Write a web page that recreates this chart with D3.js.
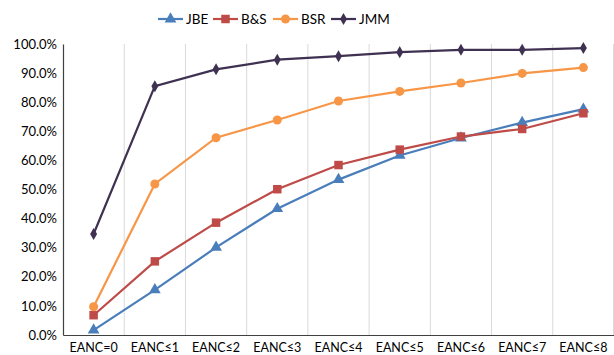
<!DOCTYPE html>
<html>
<head>
<meta charset="utf-8">
<script src="https://cdn.jsdelivr.net/npm/d3@7"></script>
<style>
  html, body { margin: 0; padding: 0; background: #fff; }
  svg { display: block; font-family: Lato, "Open Sans", sans-serif; }
</style>
</head>
<body>
<svg id="chart" width="614" height="355"></svg>
<script>
const categories = ["EANC=0", "EANC≤1", "EANC≤2", "EANC≤3", "EANC≤4", "EANC≤5", "EANC≤6", "EANC≤7", "EANC≤8"];
const seriesNames = ["JBE", "B&S", "BSR", "JMM"];
const JBE = [0.017, 0.155, 0.301, 0.434, 0.534, 0.617, 0.677, 0.730, 0.776];
const BS  = [0.068, 0.253, 0.386, 0.501, 0.584, 0.637, 0.682, 0.708, 0.762];
const BSR = [0.097, 0.519, 0.678, 0.739, 0.804, 0.837, 0.866, 0.899, 0.919];
const JMM = [0.347, 0.855, 0.913, 0.946, 0.958, 0.972, 0.980, 0.980, 0.986];
const yTicks = [0, 0.1, 0.2, 0.3, 0.4, 0.5, 0.6, 0.7, 0.8, 0.9, 1.0];

const colors = ["#4A7EBB", "#BE4B48", "#F79646", "#3F3151"];
const symbols = [d3.symbolTriangle, d3.symbolSquare, d3.symbolCircle, d3.symbolDiamond];
const symSizes = [60, 72, 64, 42];
const seriesData = [JBE, BS, BSR, JMM];

const svg = d3.select("#chart");
const mLeft = 63, mRight = 614, mTop = 44, mBottom = 335;

const x = d3.scaleBand().domain(categories).range([mLeft, mRight]).padding(0);
const y = d3.scaleLinear().domain([0, 1]).range([mBottom, mTop]);

// vertical gridlines at category boundaries
const bounds = categories.map(c => x(c)).slice(1).concat([mRight - 0.5]);
svg.append("g").selectAll("line").data(bounds).join("line")
  .attr("x1", d => d).attr("x2", d => d)
  .attr("y1", mTop).attr("y2", mBottom)
  .attr("stroke", "#d9d9d9").attr("stroke-width", 1);

// y axis
const yAxis = svg.append("g").attr("transform", `translate(${mLeft},0)`)
  .call(d3.axisLeft(y).tickValues(yTicks).tickFormat(d3.format(".1%")).tickSize(0).tickPadding(6));
yAxis.select(".domain").attr("stroke", "#404040").attr("stroke-width", 1.2);
yAxis.selectAll("text").attr("font-size", 13).attr("fill", "#000").attr("font-family", "Lato, sans-serif");

// x axis
const xAxis = svg.append("g").attr("transform", `translate(0,${mBottom})`)
  .call(d3.axisBottom(x).tickSize(0).tickPadding(8));
xAxis.select(".domain").attr("stroke", "#404040").attr("stroke-width", 1.2);
xAxis.selectAll("text").attr("font-size", 12.5).attr("fill", "#000").attr("font-family", "Lato, sans-serif");

// lines & markers
const line = d3.line().x((d, i) => x(categories[i]) + x.bandwidth() / 2).y(d => y(d));
seriesData.forEach((vals, s) => {
  svg.append("path").datum(vals)
    .attr("d", line).attr("fill", "none")
    .attr("stroke", colors[s]).attr("stroke-width", 2.2);
  svg.append("g").selectAll("path").data(vals).join("path")
    .attr("d", d3.symbol().type(symbols[s]).size(symSizes[s]))
    .attr("transform", (d, i) => `translate(${x(categories[i]) + x.bandwidth() / 2},${y(d)})`)
    .attr("fill", colors[s]);
});

// legend
const legendX = [158, 213, 273, 331];
const lg = svg.append("g");
seriesNames.forEach((name, s) => {
  const g = lg.append("g").attr("transform", `translate(${legendX[s]},19)`);
  g.append("line").attr("x1", 0).attr("x2", 25).attr("y1", 0).attr("y2", 0)
    .attr("stroke", colors[s]).attr("stroke-width", 2.2);
  g.append("path").attr("d", d3.symbol().type(symbols[s]).size(symSizes[s]))
    .attr("transform", "translate(12.5,0)").attr("fill", colors[s]);
  g.append("text").attr("x", 28).attr("y", 0).attr("dy", "0.35em")
    .attr("font-size", 13.5).attr("fill", "#000").text(name);
});
</script>
</body>
</html>
